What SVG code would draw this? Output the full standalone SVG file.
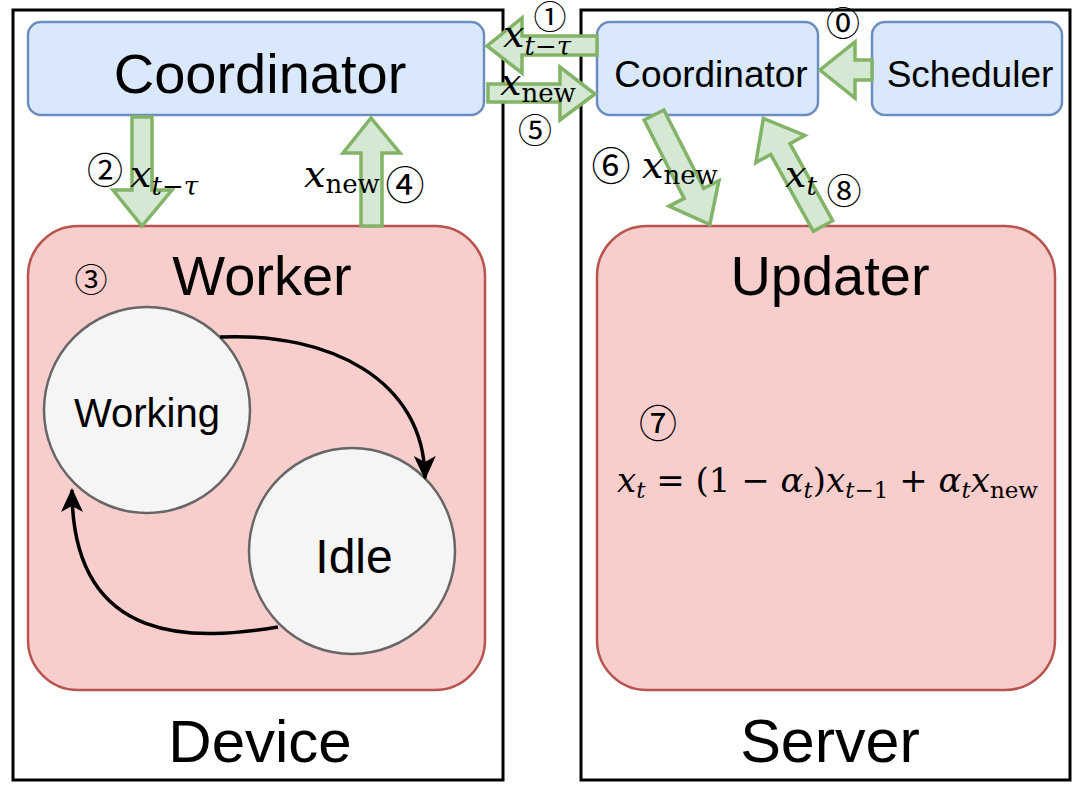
<svg xmlns="http://www.w3.org/2000/svg" width="1080" height="789" viewBox="0 0 1080 789">
<defs>
<style>
.frame{fill:#fff;stroke:#000;stroke-width:3}
.blue{fill:#dae8fc;stroke:#6c8ebf;stroke-width:2.5}
.red{fill:#f8cecc;stroke:#b85450;stroke-width:2.5}
.state{fill:#f5f5f5;stroke:#666;stroke-width:2.5}
.barrow{fill:#d5e8d4;stroke:#82b366;stroke-width:3.5;stroke-linejoin:miter}
.lbl{font-family:"Liberation Sans",Arial,sans-serif;fill:#000;text-anchor:middle}
.num{font-family:"Noto Sans CJK JP","DejaVu Sans",sans-serif;fill:#000;text-anchor:middle;dominant-baseline:central}
.m{font-family:"DejaVu Serif","Liberation Serif",serif;fill:#000}
.it{font-style:italic}
.edge{fill:none;stroke:#000;stroke-width:3.5}
</style>
<marker id="ah2" viewBox="0 0 24 24" refX="22" refY="12" markerWidth="24" markerHeight="24" orient="auto" markerUnits="userSpaceOnUse">
<path d="M0,1 L24,12 L0,23 L6,12 Z" fill="#000"/>
</marker>
</defs>
<rect width="1080" height="789" fill="#fff"/>

<g id="device">
<rect class="frame" x="13" y="10" width="490" height="770"/>
<text class="lbl" x="260" y="762" font-size="60">Device</text>
</g>
<g id="server">
<rect class="frame" x="581" y="10" width="489" height="770"/>
<text class="lbl" x="830" y="762" font-size="61">Server</text>
</g>

<g id="device-coordinator">
<rect class="blue" x="28" y="22" width="456" height="93" rx="13"/>
<text class="lbl" x="260" y="93" font-size="56">Coordinator</text>
</g>
<g id="server-coordinator">
<rect class="blue" x="597" y="22" width="221" height="93" rx="13"/>
<text class="lbl" x="711" y="87" font-size="37">Coordinator</text>
</g>
<g id="scheduler">
<rect class="blue" x="872" y="22" width="190" height="93" rx="13"/>
<text class="lbl" x="970" y="87" font-size="37">Scheduler</text>
</g>

<g id="worker">
<rect class="red" x="28" y="226" width="457" height="464" rx="50"/>
<text class="lbl" x="262" y="295" font-size="56">Worker</text>
<text class="num" x="91" y="278" font-size="33">③</text>
</g>
<g id="updater">
<rect class="red" x="597" y="226" width="458" height="464" rx="50"/>
<text class="lbl" x="830" y="295" font-size="56">Updater</text>
<text class="num" x="658" y="420" font-size="38">⑦</text>
<text class="m" x="617" y="492" font-size="34"><tspan class="it">x</tspan><tspan class="it" font-size="23" dy="6">t</tspan><tspan dy="-6"> = (1 − </tspan><tspan class="it">α</tspan><tspan class="it" font-size="23" dy="6">t</tspan><tspan dy="-6">)</tspan><tspan class="it">x</tspan><tspan font-size="23" dy="6"><tspan class="it">t</tspan>−1</tspan><tspan dy="-6"> + </tspan><tspan class="it">α</tspan><tspan class="it" font-size="23" dy="6">t</tspan><tspan class="it" dy="-6">x</tspan><tspan font-size="23" dy="6">new</tspan></text>
</g>

<g id="working">
<circle class="state" cx="147" cy="410" r="103"/>
<text class="lbl" x="147" y="427" font-size="40">Working</text>
</g>
<g id="idle">
<circle class="state" cx="352" cy="551" r="103"/>
<text class="lbl" x="354" y="573" font-size="48">Idle</text>
</g>

<g id="connectors">
<path class="edge" d="M220,337 C330,332 424,380 425,478" marker-end="url(#ah2)"/>
<path class="edge" d="M278,627 C200,640 72,650 72,490" marker-end="url(#ah2)"/>

<!-- 1: server coord -> device coord -->
<path class="barrow" d="M597,36 L522,36 L522,18 L487,46 L522,73 L522,55 L597,55 Z"/>
<!-- 5: device coord -> server coord -->
<path class="barrow" d="M488,84 L560,84 L560,67 L595,94 L560,120 L560,102 L488,102 Z"/>
<!-- 0: scheduler -> server coord -->
<path class="barrow" d="M872,60 L855,60 L855,42 L820,70 L855,98 L855,80 L872,80 Z"/>
<!-- 2: down -->
<path class="barrow" d="M132,117 L152,117 L152,190 L172,190 L142,226 L113,190 L132,190 Z"/>
<!-- 4: up -->
<path class="barrow" d="M361,226 L382,226 L382,153 L400,153 L371,118 L343,153 L361,153 Z"/>
<!-- 6: diagonal down -->
<path class="barrow" transform="translate(654,115) rotate(63)" d="M0,-11 L88,-11 L88,-28 L123,0 L88,28 L88,11 L0,11 Z"/>
<!-- 8: diagonal up -->
<path class="barrow" transform="translate(823,226) rotate(-119)" d="M0,-11 L88,-11 L88,-28 L123,0 L88,28 L88,11 L0,11 Z"/>
</g>

<g id="labels">
<text class="num" x="550" y="15" font-size="33">①</text>
<text class="m" x="503" y="47" font-size="38"><tspan class="it">x</tspan><tspan font-size="26" dy="8"><tspan class="it">t</tspan>−<tspan class="it">τ</tspan></tspan></text>
<text class="m" x="500" y="95" font-size="38"><tspan class="it">x</tspan><tspan font-size="26" dy="7">new</tspan></text>
<text class="num" x="535" y="128" font-size="34">⑤</text>
<text class="num" x="843" y="21" font-size="34">⓪</text>

<text class="num" x="105" y="168" font-size="36">②</text>
<text class="m" x="130" y="187" font-size="38"><tspan class="it">x</tspan><tspan font-size="26" dy="8"><tspan class="it">t</tspan>−<tspan class="it">τ</tspan></tspan></text>
<text class="m" x="304" y="187" font-size="38"><tspan class="it">x</tspan><tspan font-size="26" dy="6">new</tspan></text>
<text class="num" x="405" y="182" font-size="39">④</text>

<text class="num" x="611" y="163" font-size="39">⑥</text>
<text class="m" x="642" y="178" font-size="38"><tspan class="it">x</tspan><tspan font-size="26" dy="6">new</tspan></text>
<text class="m" x="785" y="187" font-size="38"><tspan class="it">x</tspan><tspan class="it" font-size="26" dy="8">t</tspan></text>
<text class="num" x="844" y="188" font-size="35">⑧</text>
</g>
</svg>
